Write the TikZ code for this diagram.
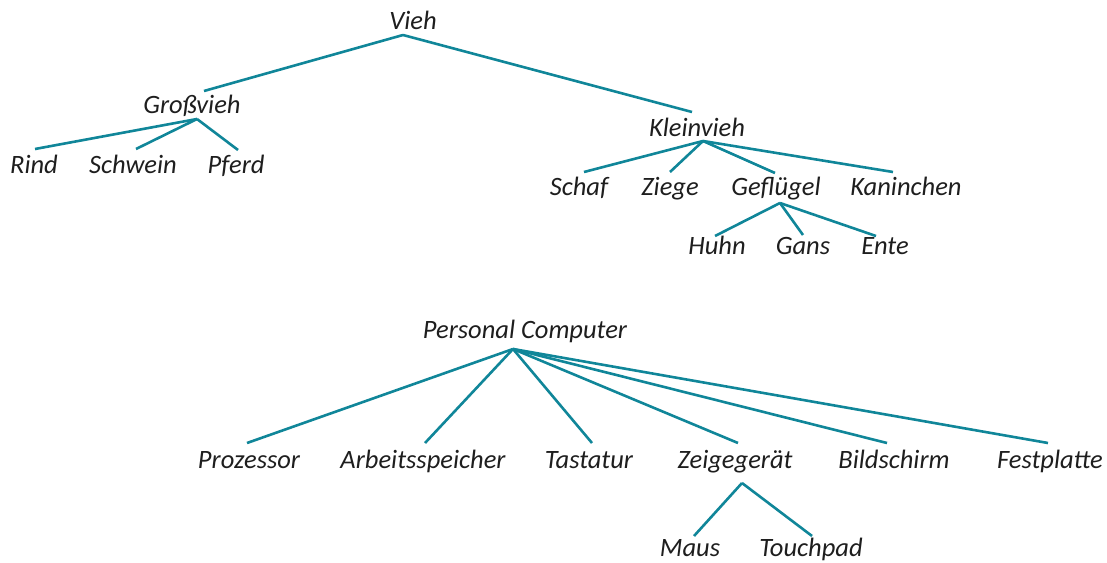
\documentclass[tikz,border=0pt]{standalone}
\usepackage{fontspec}
\setmainfont{Carlito}
\definecolor{teal1}{RGB}{16,134,153}
\definecolor{txt}{RGB}{30,30,30}
\begin{document}
\begin{tikzpicture}[x=1pt,y=-1pt,
  lbl/.style={anchor=base,inner sep=0pt,font=\itshape\fontsize{26.5}{26.5}\selectfont,text=txt},
  edge/.style={draw=teal1,line width=2.6pt}]
\useasboundingbox (0,0) rectangle (1107,562);
% labels
\node[lbl] (vieh) at (413,29) {Vieh};
\node[lbl] (gross) at (192,113) {Großvieh};
\node[lbl] (rind) at (34,173) {Rind};
\node[lbl] (schwein) at (133,173) {Schwein};
\node[lbl] (pferd) at (236,173) {Pferd};
\node[lbl] (klein) at (697,136) {Kleinvieh};
\node[lbl] (schaf) at (579,195) {Schaf};
\node[lbl] (ziege) at (670,195) {Ziege};
\node[lbl] (gefl) at (776,195) {Geflügel};
\node[lbl] (kanin) at (906,195) {Kaninchen};
\node[lbl] (huhn) at (717,254) {Huhn};
\node[lbl] (gans) at (803,254) {Gans};
\node[lbl] (ente) at (885,254) {Ente};
\node[lbl] (pc) at (525,338) {Personal Computer};
\node[lbl] (proz) at (249,468) {Prozessor};
\node[lbl] (arb) at (423,468) {Arbeitsspeicher};
\node[lbl] (tast) at (589,468) {Tastatur};
\node[lbl] (zeig) at (735,468) {Zeigegerät};
\node[lbl] (bild) at (894,468) {Bildschirm};
\node[lbl] (fest) at (1050,468) {Festplatte};
\node[lbl] (maus) at (690,556) {Maus};
\node[lbl] (touch) at (811,556) {Touchpad};
% connector points
\coordinate (vieh-o) at (403,35);
\coordinate (gross-i) at (204,91);
\coordinate (klein-i) at (692,112);
\coordinate (gross-o) at (197,119);
\coordinate (rind-i) at (35,149);
\coordinate (schwein-i) at (136,149);
\coordinate (pferd-i) at (238,150);
\coordinate (klein-o) at (703,141);
\coordinate (schaf-i) at (584,172);
\coordinate (ziege-i) at (670,172);
\coordinate (gefl-i) at (775,173);
\coordinate (kanin-i) at (893,172);
\coordinate (gefl-o) at (780,203);
\coordinate (huhn-i) at (715,236);
\coordinate (gans-i) at (803,235);
\coordinate (ente-i) at (876,236);
\coordinate (pc-o) at (513,349);
\coordinate (proz-i) at (247,443);
\coordinate (arb-i) at (425,443);
\coordinate (tast-i) at (592,443);
\coordinate (zeig-i) at (738,443);
\coordinate (bild-i) at (887,443);
\coordinate (fest-i) at (1048,443);
\coordinate (zeig-o) at (742,483);
\coordinate (maus-i) at (694,536);
\coordinate (touch-i) at (812,536);
% connectors
\foreach \c in {gross,klein} \draw[edge] (vieh-o) -- (\c-i);
\foreach \c in {rind,schwein,pferd} \draw[edge] (gross-o) -- (\c-i);
\foreach \c in {schaf,ziege,gefl,kanin} \draw[edge] (klein-o) -- (\c-i);
\foreach \c in {huhn,gans,ente} \draw[edge] (gefl-o) -- (\c-i);
\foreach \c in {proz,arb,tast,zeig,bild,fest} \draw[edge] (pc-o) -- (\c-i);
\foreach \c in {maus,touch} \draw[edge] (zeig-o) -- (\c-i);
\end{tikzpicture}
\end{document}
